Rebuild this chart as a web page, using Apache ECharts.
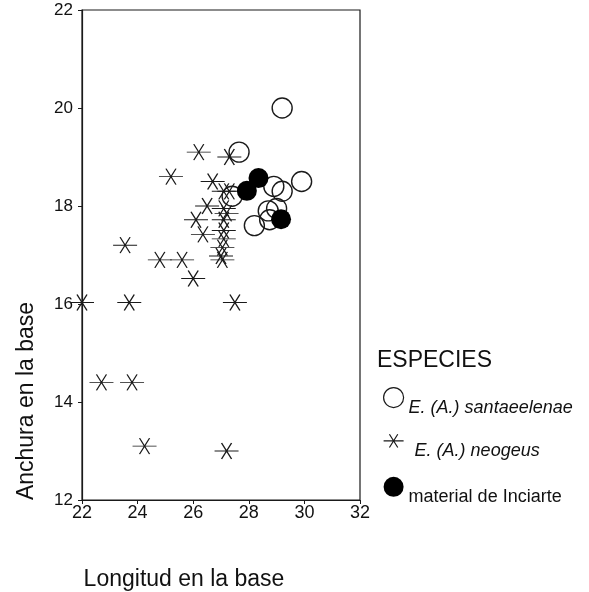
<!DOCTYPE html>
<html>
<head>
<meta charset="utf-8">
<script src="https://cdn.jsdelivr.net/npm/echarts@6/dist/echarts.min.js"></script>
<style>
  html, body { margin: 0; padding: 0; background: #fff; }
  #chart { width: 589px; height: 592px; }
</style>
</head>
<body>
<div id="chart"></div>
<script>
// valores [longitud, anchura]
const santaeelenae = [
  [29.2, 20.0], [27.65, 19.1], [29.9, 18.5], [28.9, 18.4], [29.2, 18.3],
  [27.4, 18.2], [29.0, 17.95], [28.7, 17.9], [28.75, 17.72], [28.2, 17.6]
]
const neogeus = [
  [26.2, 19.1], [27.3, 19.0], [25.2, 18.6], [26.7, 18.5], [27.1, 18.3],
  [27.3, 18.3], [26.5, 18.0], [27.1, 17.95], [27.2, 17.85], [26.1, 17.72],
  [27.1, 17.72], [26.35, 17.42], [27.1, 17.5], [27.1, 17.33], [27.05, 17.15],
  [27.0, 16.98], [27.05, 16.9], [23.55, 17.2], [24.8, 16.9], [25.6, 16.9],
  [26.0, 16.52], [22.0, 16.03], [23.7, 16.03], [27.5, 16.03], [22.7, 14.4],
  [23.8, 14.4], [24.25, 13.1], [27.2, 13.0]
]
const inciarte = [[28.35, 18.57], [27.93, 18.31], [29.16, 17.73]]
const seriesNames = ['E. (A.) santaeelenae', 'E. (A.) neogeus', 'material de Inciarte']

const font = '"Liberation Sans", Arial, sans-serif'
const ink = '#1a1a1a'
// asterisco de 6 brazos (horizontal + dos diagonales)
const star = 'path://M-12,0L12,0M-5,-8L5,8M5,-8L-5,8'

const chart = echarts.init(document.getElementById('chart'))
chart.setOption({
  animation: false,
  grid: {
    left: 82, right: 229, top: 10, bottom: 92,
    show: true, borderColor: ink, borderWidth: 1.2
  },
  xAxis: {
    type: 'value', min: 22, max: 32, interval: 2,
    axisLine: { lineStyle: { color: ink, width: 1.2 } },
    axisTick: { length: 4, lineStyle: { color: ink } },
    axisLabel: { color: '#111', fontSize: 18, fontFamily: font, margin: 4 },
    splitLine: { show: false }
  },
  yAxis: {
    type: 'value', min: 12, max: 22, interval: 2,
    axisLine: { show: true, lineStyle: { color: ink, width: 1.2 } },
    axisTick: { show: true, length: 4, lineStyle: { color: ink } },
    axisLabel: { color: '#111', fontSize: 17, fontFamily: font, margin: 9 },
    splitLine: { show: false }
  },
  title: [
    { text: 'ESPECIES', left: 372, top: 344,
      textStyle: { fontSize: 23, fontWeight: 'normal', color: '#111', fontFamily: font } }
  ],
  graphic: [
    { type: 'text', x: 184, y: 580,
      style: { text: 'Longitud en la base', fill: '#111', font: '23px ' + font, align: 'center', verticalAlign: 'middle' } },
    { type: 'text', x: 27, y: 401, rotation: Math.PI / 2,
      style: { text: 'Anchura en la base', fill: '#111', font: '23px ' + font, align: 'center', verticalAlign: 'middle' } }
  ],
  legend: {
    orient: 'vertical', left: 378, top: 382,
    itemWidth: 20, itemHeight: 20, itemGap: 17,
    selectedMode: false,
    data: [
      { name: seriesNames[0], icon: 'circle',
        itemStyle: { color: 'transparent', borderColor: ink, borderWidth: 1.2 } },
      { name: seriesNames[1], icon: star,
        itemStyle: { color: 'transparent', borderColor: ink, borderWidth: 1.2 } },
      { name: seriesNames[2], icon: 'circle',
        itemStyle: { color: '#000', borderWidth: 0 } }
    ],
    // el texto de la leyenda queda algo por debajo del simbolo
    formatter: function (name) {
      if (name === seriesNames[2]) return '{r|' + name + '}'
      if (name === seriesNames[1]) return '{n|' + name + '}'
      return '{i|' + name + '}'
    },
    textStyle: {
      fontSize: 18, color: '#111', fontFamily: font,
      rich: {
        i: { fontSize: 18, fontStyle: 'italic', fontFamily: font, color: '#111', padding: [20, 0, 0, 0] },
        n: { fontSize: 18, fontStyle: 'italic', fontFamily: font, color: '#111', padding: [20, 0, 0, 6] },
        r: { fontSize: 18, fontFamily: font, color: '#111', padding: [20, 0, 0, 0] }
      }
    }
  },
  series: [
    {
      name: seriesNames[1], type: 'scatter', data: neogeus,
      symbol: star, symbolSize: [24, 16],
      itemStyle: { color: 'transparent', borderColor: ink, borderWidth: 1.1, opacity: 1 },
      z: 2
    },
    {
      name: seriesNames[0], type: 'scatter', data: santaeelenae,
      symbol: 'circle', symbolSize: 20,
      itemStyle: { color: 'transparent', borderColor: ink, borderWidth: 1.4, opacity: 1 },
      z: 3
    },
    {
      name: seriesNames[2], type: 'scatter', data: inciarte,
      symbol: 'circle', symbolSize: 20,
      itemStyle: { color: '#000', opacity: 1 },
      z: 4
    }
  ]
})
</script>
</body>
</html>
